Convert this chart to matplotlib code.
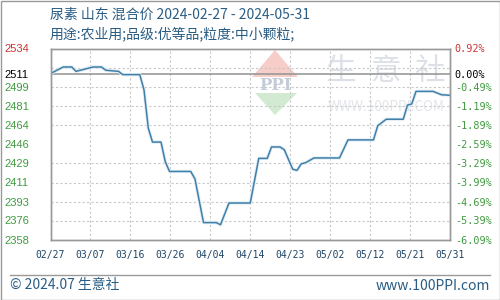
import matplotlib
matplotlib.use("Agg")
import matplotlib.pyplot as plt
import matplotlib.dates as mdates
from matplotlib.patches import Polygon, Rectangle
from matplotlib.lines import Line2D
import numpy as np
import pandas as pd

plt.rcParams['font.family'] = ['Noto Sans CJK SC', 'DejaVu Sans']

title = "尿素 山东 混合价 2024-02-27 - 2024-05-31"
subtitle = "用途:农业用;品级:优等品;粒度:中小颗粒;"

# price (break points of the line)
dates = ["2024-02-27", "2024-03-01", "2024-03-03", "2024-03-04", "2024-03-06",
         "2024-03-08", "2024-03-10", "2024-03-11", "2024-03-14", "2024-03-15",
         "2024-03-19", "2024-03-20", "2024-03-21", "2024-03-22", "2024-03-24",
         "2024-03-25", "2024-03-26", "2024-03-31", "2024-04-01", "2024-04-03",
         "2024-04-06", "2024-04-07", "2024-04-09", "2024-04-14", "2024-04-16",
         "2024-04-18", "2024-04-19", "2024-04-21", "2024-04-22", "2024-04-23",
         "2024-04-24", "2024-04-25", "2024-04-26", "2024-04-27", "2024-04-29",
         "2024-05-05", "2024-05-07", "2024-05-13", "2024-05-14", "2024-05-16",
         "2024-05-20", "2024-05-21", "2024-05-22", "2024-05-23", "2024-05-27",
         "2024-05-29", "2024-05-31"]
prices = [2511, 2517, 2517, 2513, 2515,
          2517, 2517, 2514, 2513, 2510,
          2510, 2496, 2461, 2448, 2448,
          2430, 2421, 2421, 2414, 2374,
          2374, 2372, 2392, 2392, 2433,
          2433, 2443.5, 2443.5, 2441, 2432,
          2423, 2422, 2428, 2429, 2433.4,
          2433.4, 2450, 2450, 2463, 2469,
          2469, 2482, 2483, 2494.6, 2494.6,
          2491.5, 2491]

start, end = "2024-02-27", "2024-05-31"
x_labels = ["02/27", "03/07", "03/16", "03/26", "04/04", "04/14",
            "04/23", "05/02", "05/12", "05/21", "05/31"]
base_price = 2511
y_min, y_max = 2358, 2534
y_ticks = [2534, 2511, 2499, 2481, 2464, 2446, 2429, 2411, 2393, 2376, 2358]
pct_labels = ["0.92%", "0.00%", "-0.49%", "-1.19%", "-1.89%", "-2.59%",
              "-3.29%", "-3.99%", "-4.69%", "-5.39%", "-6.09%"]

blue_text = '#2a5d84'
red = '#cc3333'
green = '#3f9a3f'

fig = plt.figure(figsize=(5, 3), dpi=100)
W, H = 500, 300
ax = fig.add_axes([50.5 / W, 1 - 240 / H, 399.5 / W, 191.5 / H])
ax.patch.set_alpha(0)

x = pd.to_datetime(dates)
ax.plot(x, prices, color='#e1edf5', lw=2.4, zorder=3, solid_joinstyle='round')
ax.plot(x, prices, color='#3f7fa8', lw=1.1, zorder=4)

x0, x1 = mdates.date2num(pd.Timestamp(start)), mdates.date2num(pd.Timestamp(end))
ax.set_xlim(x0, x1)
ax.set_ylim(y_min, y_max)

# x ticks evenly spaced
ax.set_xticks(np.linspace(x0, x1, len(x_labels)))
ax.set_xticklabels(x_labels, fontfamily='DejaVu Sans Mono', fontsize=7, color='#1d4466')
ax.tick_params(axis='x', length=0, pad=7)
ax.grid(axis='x', color='#c8c8c8', lw=0.8, ls=(0, (2, 2)))

# horizontal grid on minor ticks
ax.set_yticks(np.linspace(y_min, y_max, 11)[1:-1], minor=True)
ax.tick_params(axis='y', which='minor', length=0)
ax.grid(axis='y', which='minor', color='#c8c8c8', lw=0.8, ls=(0, (2, 2)))
ax.axhline(base_price, color='#999999', lw=1.2, zorder=2)

ax.set_yticks(y_ticks)
ax.set_yticklabels([str(v) for v in y_ticks], ha='left', fontfamily='Liberation Sans', fontsize=8)
ax.tick_params(axis='y', which='major', length=0, pad=33)
for i, lab in enumerate(ax.get_yticklabels()):
    lab.set_color(red if i == 0 else ('black' if i == 1 else green))

ax2 = ax.twinx()
ax2.set_ylim(y_min, y_max)
ax2.set_yticks(y_ticks)
ax2.set_yticklabels(pct_labels, fontfamily='DejaVu Sans Mono', fontsize=7.3)
ax2.tick_params(axis='y', length=0, pad=3.5)
for i, lab in enumerate(ax2.get_yticklabels()):
    lab.set_color(red if i == 0 else ('black' if i == 1 else green))

for a in (ax, ax2):
    for s in a.spines.values():
        s.set_color('#999999')
        s.set_linewidth(1)

# watermark
def fx(px):
    return px / W

def fy(py):
    return 1 - py / H

ax.add_patch(Polygon([(fx(275), fy(50)), (fx(252), fy(77)), (fx(298), fy(77))],
                     closed=True, transform=fig.transFigure, color='#f6cdc8', lw=0, zorder=1))
ax.add_patch(Polygon([(fx(255), fy(93)), (fx(297), fy(93)), (fx(275), fy(115))],
                     closed=True, transform=fig.transFigure, color='#d2ead2', lw=0, zorder=1))
ax.text(fx(275), fy(85), "PPI", transform=fig.transFigure, ha='center', va='center',
        fontsize=12, fontweight='bold', color='#c3ccd8', fontfamily='DejaVu Serif', zorder=1)
for ch, cx in zip("生意社", [341, 385, 429]):
    ax.text(fx(cx), fy(72), ch, transform=fig.transFigure, ha='center', va='center',
            fontsize=22, color='#dde1e7', zorder=1)
ax.text(fx(386), fy(107), "WWW.100PPI.COM", transform=fig.transFigure, ha='center', va='center',
        fontsize=9.8, color='#e2e5ea', zorder=1)

# titles
fig.text(fx(50), fy(15), title, ha='left', va='center', fontsize=10, color=blue_text)
fig.text(fx(50), fy(34), subtitle, ha='left', va='center', fontsize=10, color=blue_text)

# footer
fig.add_artist(Line2D([fx(10), fx(490)], [fy(275), fy(275)], color='#999999', lw=1))
fig.text(fx(10), fy(285.5), "© 2024.07 生意社", ha='left', va='center', fontsize=10, color=blue_text)
fig.text(fx(490), fy(285.5), "www.100PPI.com", ha='right', va='center', fontsize=10, color=blue_text)

fig.add_artist(Rectangle((0.5 / W, 0.5 / H), 1 - 1 / W, 1 - 1 / H, transform=fig.transFigure,
                         fill=False, edgecolor='#999999', lw=1))

fig.savefig("out.png", dpi=100)
